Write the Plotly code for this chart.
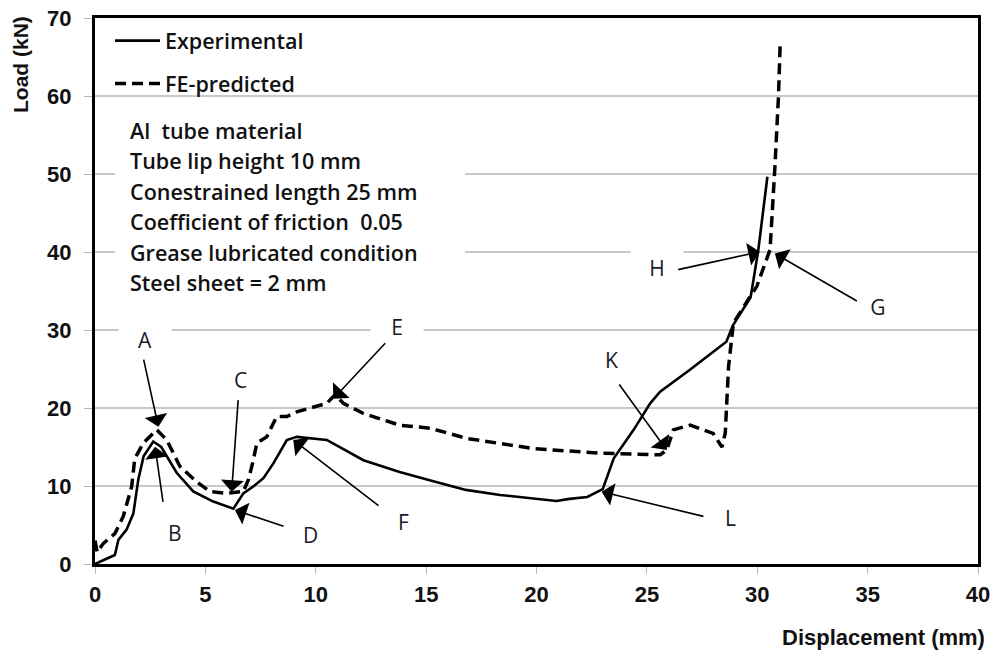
import plotly.graph_objects as go

# ---------------- data ----------------
exp_x = [0, 0.9, 1.06, 1.43, 1.74, 1.96, 2.2, 2.64, 3.0, 3.7, 4.45, 5.36, 6.27, 6.72,
         7.2, 7.63, 8.08, 8.69, 9.14, 10.5, 12.16, 13.8, 15.2, 16.8, 18.35, 20.9,
         21.5, 22.3, 23.0, 23.5, 24.4, 24.7, 25.15, 25.6, 26.95, 28.6, 28.9, 29.7,
         30.05, 30.46]
exp_y = [0, 1.15, 3.1, 4.4, 6.5, 10.8, 13.8, 15.7, 15.0, 11.7, 9.3, 8.0, 7.1, 9.06,
         10.0, 11.0, 12.9, 15.9, 16.3, 15.9, 13.3, 11.8, 10.7, 9.5, 8.85, 8.08,
         8.35, 8.6, 9.6, 13.55, 17.2, 18.5, 20.6, 22.1, 24.9, 28.5, 30.6, 34.2,
         40.3, 49.65]

fe_x = [0, 0.1, 0.38, 0.9, 1.28, 1.66, 1.8, 2.19, 2.8, 3.25, 3.85, 4.6, 5.2, 5.97,
        6.72, 6.95, 7.17, 7.33, 7.78, 8.23, 8.69, 9.14, 10.5, 10.87, 11.25, 12.16,
        13.8, 15.2, 16.84, 19.86, 22.9, 25.6, 25.9, 26.2, 26.96, 28.0, 28.4, 28.55,
        28.7, 28.92, 29.98, 30.58, 30.8, 30.96, 31.04]
fe_y = [3.0, 1.5, 2.65, 3.9, 6.1, 9.9, 13.5, 15.5, 17.2, 15.9, 12.5, 10.55, 9.3, 9.06,
        9.3, 10.8, 13.3, 15.5, 16.3, 18.9, 18.9, 19.5, 20.6, 21.7, 20.6, 19.3,
        17.8, 17.4, 16.1, 14.8, 14.2, 14.0, 14.6, 17.2, 17.8, 16.75, 15.0, 16.75,
        25.3, 30.9, 35.6, 40.3, 50.9, 59.9, 66.75]

series_names = ["Experimental", "FE-predicted"]

x_ticks = [0, 5, 10, 15, 20, 25, 30, 35, 40]
y_ticks = [0, 10, 20, 30, 40, 50, 60, 70]

info_lines = ["Al  tube material", "Tube lip height 10 mm", "Conestrained length 25 mm",
              "Coefficient of friction  0.05", "Grease lubricated condition",
              "Steel sheet = 2 mm"]

# point labels: (label, label_x, label_y, tail_x, tail_y, head_x, head_y)
point_labels = [
    ("A", 2.27, 28.7, 2.19, 26.4, 2.87, 17.6),
    ("B", 3.62, 3.94, 3.09, 7.78, 2.72, 15.04),
    ("C", 6.57, 23.6, 6.49, 21.2, 6.19, 9.27),
    ("D", 9.74, 3.72, 8.61, 4.78, 6.34, 6.92),
    ("E", 13.67, 30.4, 13.21, 28.5, 10.8, 21.2),
    ("F", 13.97, 5.42, 12.91, 7.35, 8.98, 15.9),
    ("K", 23.41, 26.15, 23.7, 23.2, 25.9, 14.6),
    ("L", 28.77, 5.86, 27.63, 6.06, 22.95, 9.27),
    ("H", 25.45, 37.9, 26.35, 37.7, 30.12, 40.04),
    ("G", 35.48, 33.0, 34.58, 33.6, 30.8, 39.8),
]
boxed_labels = {"A", "E", "H", "G"}

# ---------------- figure ----------------
TXT = "Open Sans"
NUM = "Liberation Sans"

fig = go.Figure()
fig.add_trace(go.Scatter(x=exp_x, y=exp_y, mode="lines", name=series_names[0],
                         legendgroup="a",
                         line=dict(color="black", width=2.6)))
fig.add_trace(go.Scatter(x=fe_x, y=fe_y, mode="lines", name=series_names[1],
                         legendgroup="b",
                         line=dict(color="black", width=3.5, dash="11px,6px")))

annotations = []
for i, line in enumerate(info_lines):
    annotations.append(dict(x=1.5, y=55.64 - i * 3.92, xref="x", yref="y",
                            text=line, showarrow=False, xanchor="left",
                            yanchor="middle",
                            font=dict(family=TXT, size=21.5, color="#111111",
                                      weight=600)))

for lab, lx, ly, tx, ty, hx, hy in point_labels:
    boxed = lab in boxed_labels
    annotations.append(dict(x=lx, y=ly, xref="x", yref="y", text=lab,
                            showarrow=False, xanchor="center", yanchor="middle",
                            bgcolor="white" if boxed else "rgba(0,0,0,0)",
                            width=40 if boxed else None, borderpad=6 if boxed else 1,
                            font=dict(family=TXT, size=21, color="#1a1a28")))
    annotations.append(dict(x=hx, y=hy, xref="x", yref="y", ax=tx, ay=ty,
                            axref="x", ayref="y", text="", showarrow=True,
                            arrowhead=1, arrowsize=2.4, arrowwidth=1.6,
                            arrowcolor="black"))

annotations.append(dict(x=-0.0838, y=0.914, xref="paper", yref="paper",
                        text="<b>Load (kN)</b>", textangle=-90, showarrow=False,
                        xanchor="center", yanchor="middle",
                        font=dict(family=NUM, size=21, color="#111111")))
annotations.append(dict(x=1.0102, y=-0.1337, xref="paper", yref="paper",
                        text="<b>Displacement (mm)</b>", showarrow=False,
                        xanchor="right", yanchor="middle",
                        font=dict(family=NUM, size=22, color="#111111")))

shapes = [dict(type="rect", xref="x", yref="y", x0=0.9, x1=16.76, y0=33.8, y1=58.4,
               fillcolor="white", line=dict(width=0), layer="between")]

fig.update_layout(
    width=995, height=650,
    margin=dict(l=95, r=17, t=18, b=86, autoexpand=False),
    paper_bgcolor="white", plot_bgcolor="white",
    showlegend=True,
    legend=dict(x=0.017, y=0.996, xanchor="left", yanchor="top",
                bgcolor="rgba(0,0,0,0)", tracegroupgap=12, itemwidth=45,
                font=dict(family=TXT, size=21.5, color="#111111", weight=600)),
    annotations=annotations,
    shapes=shapes,
    xaxis=dict(range=[0, 40], tickvals=x_ticks, ticktext=[str(v) for v in x_ticks],
               showgrid=False, zeroline=False, automargin=False,
               showline=True, linecolor="black", linewidth=3, mirror=True,
               ticks="outside", ticklen=7, tickwidth=1.2, tickcolor="#b8b8b8",
               ticklabelstandoff=2,
               tickfont=dict(family=NUM, size=22, color="#111111", weight="bold")),
    yaxis=dict(range=[0, 70], tickvals=y_ticks, ticktext=[str(v) for v in y_ticks],
               showgrid=True, gridcolor="#c8c8c8", gridwidth=1.5, zeroline=False,
               automargin=False,
               showline=True, linecolor="black", linewidth=3, mirror=True,
               ticks="outside", ticklen=8, tickwidth=1.2, tickcolor="#b8b8b8",
               ticklabelstandoff=8,
               tickfont=dict(family=NUM, size=22, color="#111111", weight="bold")),
)

fig.write_html("out.html")
